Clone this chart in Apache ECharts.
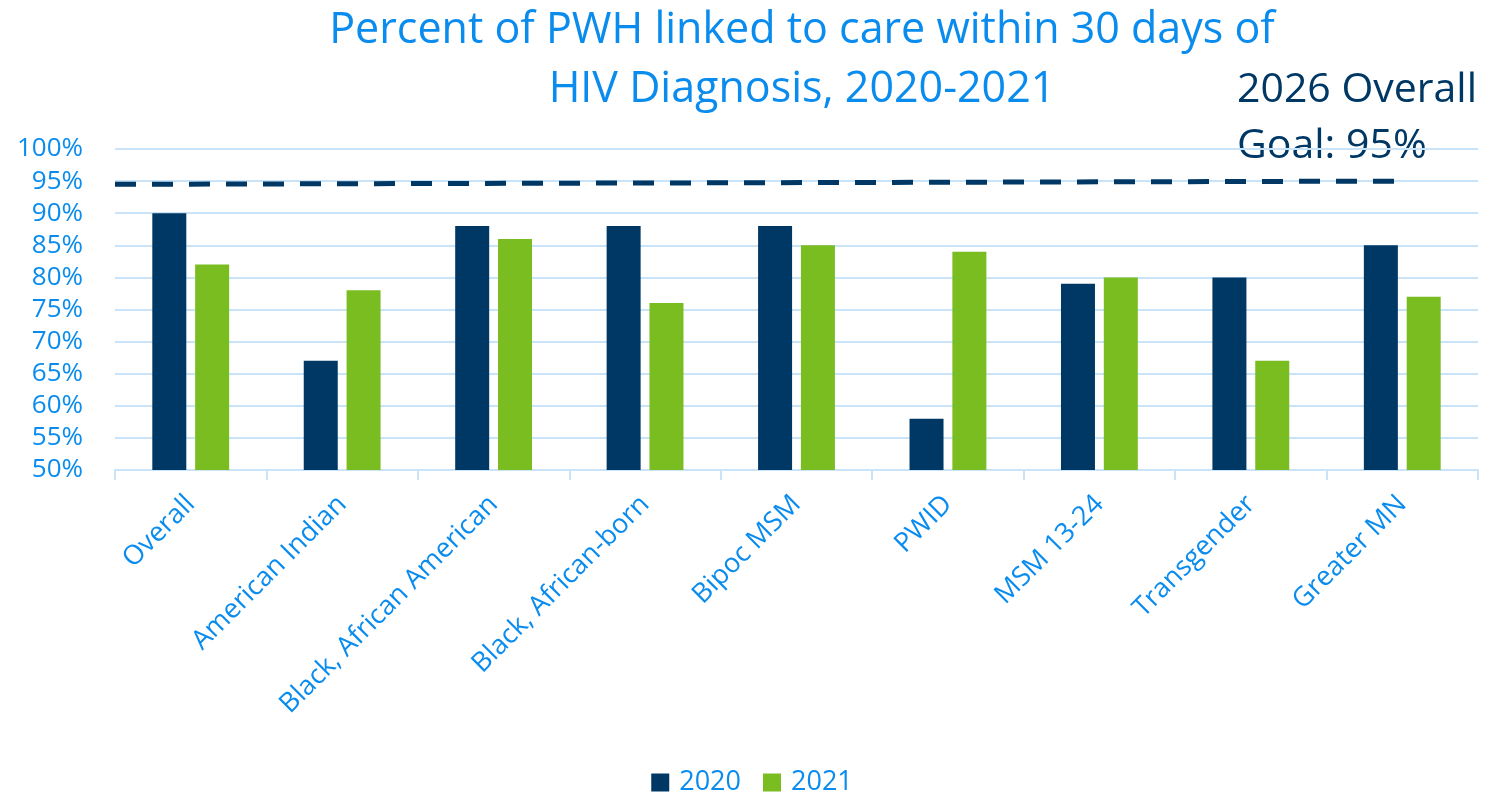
<!DOCTYPE html>
<html><head><meta charset="utf-8">
<script src="https://cdn.jsdelivr.net/npm/echarts@6/dist/echarts.min.js"></script>
<style>html,body{margin:0;padding:0;background:#fff}#c{width:1504px;height:793px}</style>
</head><body><div id="c"></div>
<script>
const categories = ["Overall","American Indian","Black, African American","Black, African-born","Bipoc MSM","PWID","MSM 13-24","Transgender","Greater MN"];
const values2020 = [90,67,88,88,88,58,79,80,85];
const values2021 = [82,78,86,76,85,84,80,67,77];
const goalLine = [[0,94.5],[8.53,95]];
const yTicks = {min:50,max:100,interval:5};
const titleLines = ["Percent of PWH linked to care within 30 days of","HIV Diagnosis, 2020-2021"];
const goalText = ["2026 Overall","Goal: 95%"];

const FONT = '"Open Sans", "Noto Sans", sans-serif';
const BLUE = '#0a8cee';
const NAVY = '#003865';
const GREEN = '#7abd21';
const GRID = '#c9e3f8';

const chart = echarts.init(document.getElementById('c'), null, {renderer:'canvas'});
chart.setOption({
  animation:false,
  textStyle:{fontFamily:FONT},
  grid:{left:115,right:26,top:149,bottom:323,containLabel:false},
  graphic:[
    {type:'text',x:802,y:31,style:{text:titleLines[0],align:'center',verticalAlign:'middle',fill:BLUE,font:'43px '+FONT}},
    {type:'text',x:802,y:90,style:{text:titleLines[1],align:'center',verticalAlign:'middle',fill:BLUE,font:'43px '+FONT}},
    {type:'text',x:1237,y:90,style:{text:goalText[0],align:'left',verticalAlign:'middle',fill:NAVY,font:'41px '+FONT}},
    {type:'text',x:1237,y:146,style:{text:goalText[1],align:'left',verticalAlign:'middle',fill:NAVY,font:'41px '+FONT}}
  ],
  legend:{
    top:764,left:'center',itemWidth:18,itemHeight:18,itemGap:22,icon:'rect',
    textStyle:{color:BLUE,fontSize:27,fontFamily:FONT,padding:[0,0,0,5]},
    data:['2020','2021']
  },
  xAxis:[{
    type:'category',data:categories,
    axisLine:{lineStyle:{color:GRID,width:2}},
    axisTick:{show:true,length:10,lineStyle:{color:GRID,width:2}},
    axisLabel:{rotate:45,color:BLUE,fontSize:27,fontFamily:FONT,margin:30,interval:0}
  },{
    type:'value',min:0,max:9,show:false,position:'bottom'
  }],
  yAxis:{
    type:'value',min:yTicks.min,max:yTicks.max,interval:yTicks.interval,
    axisLine:{show:false},axisTick:{show:false},
    splitLine:{lineStyle:{color:GRID,width:2}},
    axisLabel:{color:BLUE,fontSize:26,fontFamily:FONT,margin:32,formatter:v=>v+'%'}
  },
  series:[
    {name:'2020',type:'bar',data:values2020,barWidth:34,barGap:'26%',itemStyle:{color:NAVY}},
    {name:'2021',type:'bar',data:values2021,barWidth:34,barGap:'26%',itemStyle:{color:GREEN}},
    {name:'goal',type:'line',xAxisIndex:1,data:goalLine,symbol:'none',
     lineStyle:{color:NAVY,width:5,type:[21,16]},z:5,silent:true}
  ]
});
</script></body></html>
